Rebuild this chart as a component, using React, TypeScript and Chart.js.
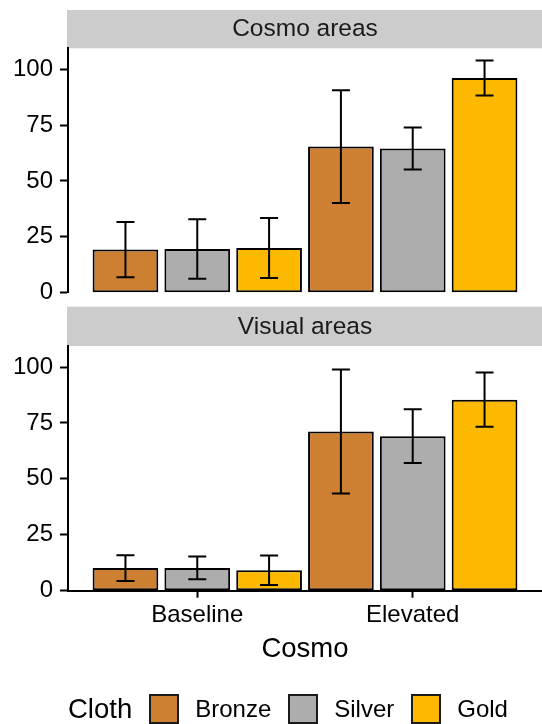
import React, { useEffect, useRef } from 'react';
import { Chart, registerables } from 'chart.js';

Chart.register(...registerables);

const FONT = "'Liberation Sans', Arial, Helvetica, sans-serif";

// ---- data ----
const categories = ['Baseline', 'Elevated'];
const cloths = ['Bronze', 'Silver', 'Gold'];
const clothColors = ['#CD7F32', '#ADADAD', '#FCB900'];
const panelTitles = ['Cosmo areas', 'Visual areas'];
const xTitle = 'Cosmo';
const legendTitle = 'Cloth';
const yTicks = [0, 25, 50, 75, 100];
const yMax = 109.4;

// Cosmo areas (top panel)
const cosmoBronze = [19.3, 65.4];
const cosmoSilver = [19.6, 64.5];
const cosmoGold = [20.0, 96.1];
const cosmoBronzeErr = [12.4, 25.2];
const cosmoSilverErr = [13.3, 9.4];
const cosmoGoldErr = [13.4, 7.8];

// Visual areas (bottom panel)
const visualBronze = [10.1, 71.2];
const visualSilver = [10.2, 69.1];
const visualGold = [9.1, 85.4];
const visualBronzeErr = [5.8, 27.7];
const visualSilverErr = [5.1, 12.0];
const visualGoldErr = [6.6, 12.1];

// ---- plugins ----
const stripPlugin = {
  id: 'strip',
  beforeDraw(chart: any, _args: any, opts: any) {
    const { ctx, chartArea } = chart;
    ctx.save();
    ctx.fillStyle = '#cccccc';
    ctx.fillRect(chartArea.left - 1, opts.top, chartArea.right - chartArea.left + 1, chartArea.top - opts.top);
    ctx.fillStyle = '#1a1a1a';
    ctx.font = `24.5px ${FONT}`;
    ctx.textAlign = 'center';
    ctx.textBaseline = 'middle';
    ctx.fillText(opts.text, (chartArea.left + chartArea.right) / 2, (opts.top + chartArea.top) / 2 + 0.5);
    ctx.restore();
  },
};

const errorBarPlugin = {
  id: 'errorBars',
  afterDatasetsDraw(chart: any) {
    const { ctx } = chart;
    const yScale = chart.scales.y;
    ctx.save();
    ctx.strokeStyle = '#000';
    ctx.lineWidth = 2;
    chart.data.datasets.forEach((ds: any, di: number) => {
      const meta = chart.getDatasetMeta(di);
      meta.data.forEach((bar: any, i: number) => {
        const v = ds.data[i].y;
        const e = ds.errors[i];
        const yt = yScale.getPixelForValue(v + e);
        const yb = yScale.getPixelForValue(v - e);
        const x = bar.x;
        const hw = 9;
        ctx.beginPath();
        ctx.moveTo(x, yt);
        ctx.lineTo(x, yb);
        ctx.moveTo(x - hw, yt);
        ctx.lineTo(x + hw, yt);
        ctx.moveTo(x - hw, yb);
        ctx.lineTo(x + hw, yb);
        ctx.stroke();
      });
    });
    ctx.restore();
  },
};

const buildDatasets = (means: number[][], errs: number[][]) =>
  cloths.map((name, k) => ({
    label: name,
    data: categories.map((_, i) => ({ x: i + 1, y: means[k][i] })),
    errors: errs[k],
    backgroundColor: clothColors[k],
    borderColor: '#000',
    borderWidth: 2,
    borderSkipped: false,
    categoryPercentage: 1,
    barPercentage: 0.915,
  }));

const yScaleOpts = () => ({
  type: 'linear',
  min: 0,
  max: yMax,
  afterBuildTicks: (s: any) => {
    s.ticks = yTicks.map((v) => ({ value: v }));
  },
  afterFit: (s: any) => {
    s.width = 68;
    s.paddingTop = 0;
    s.paddingBottom = 0;
  },
  grid: { display: true, drawOnChartArea: false, drawTicks: true, tickLength: 8, tickWidth: 2, tickColor: '#000' },
  border: { display: true, color: '#000', width: 2 },
  ticks: { padding: 7, color: '#000', font: { family: FONT, size: 24 } },
});

const xScaleOpts = (show: boolean) => ({
  type: 'linear',
  min: 0.4,
  max: 2.6,
  offset: false,
  afterBuildTicks: (s: any) => {
    s.ticks = categories.map((_, i) => ({ value: i + 1 }));
  },
  afterFit: (s: any) => {
    s.height = show ? 133.3 : 0;
    s.paddingLeft = 0;
    s.paddingRight = 0;
  },
  grid: {
    display: show,
    drawOnChartArea: false,
    offset: false,
    tickLength: 7,
    tickWidth: 2,
    tickColor: '#000',
  },
  border: { display: show, color: '#000', width: 2 },
  ticks: {
    display: show,
    padding: 3,
    color: '#000',
    autoSkip: false,
    maxRotation: 0,
    font: { family: FONT, size: 24 },
    callback: (v: any) => categories[Math.round(Number(v)) - 1] ?? '',
  },
  title: {
    display: show,
    text: xTitle,
    color: '#000',
    font: { family: FONT, size: 27.5 },
    padding: { top: 0, bottom: 58.5 },
  },
});

const makeConfig = (means: number[][], errs: number[][], title: string, stripTop: number, padTop: number, padBottom: number, showX: boolean): any => ({
  type: 'bar',
  data: { datasets: buildDatasets(means, errs) },
  options: {
    animation: false,
    responsive: false,
    devicePixelRatio: 1,
    layout: { padding: { top: padTop, bottom: padBottom, left: 0, right: 0 } },
    scales: { x: xScaleOpts(showX), y: yScaleOpts() },
    plugins: {
      legend: { display: false },
      tooltip: { enabled: false },
      strip: { text: title, top: stripTop },
    },
  },
  plugins: [stripPlugin, errorBarPlugin],
});

export default function App() {
  const topRef = useRef<HTMLCanvasElement | null>(null);
  const botRef = useRef<HTMLCanvasElement | null>(null);

  useEffect(() => {
    Chart.defaults.font.family = FONT;
    const c1 = new Chart(
      topRef.current as HTMLCanvasElement,
      makeConfig(
        [cosmoBronze, cosmoSilver, cosmoGold],
        [cosmoBronzeErr, cosmoSilverErr, cosmoGoldErr],
        panelTitles[0], 10, 48.3, 7.3, false
      )
    );
    const c2 = new Chart(
      botRef.current as HTMLCanvasElement,
      makeConfig(
        [visualBronze, visualSilver, visualGold],
        [visualBronzeErr, visualSilverErr, visualGoldErr],
        panelTitles[1], 6.7, 46, 0, true
      )
    );
    return () => {
      c1.destroy();
      c2.destroy();
    };
  }, []);

  return (
    <div style={{ position: 'absolute', left: 0, top: 0, width: 542, height: 724, background: '#fff', overflow: 'hidden' }}>
      <canvas ref={topRef} width={542} height={300} style={{ position: 'absolute', left: 0, top: 0, display: 'block' }} />
      <canvas ref={botRef} width={542} height={424} style={{ position: 'absolute', left: 0, top: 300, display: 'block' }} />
      <div
        style={{
          position: 'absolute',
          left: 68,
          top: 694,
          height: 30,
          display: 'flex',
          alignItems: 'center',
          fontFamily: FONT,
          color: '#000',
          lineHeight: '30px',
          whiteSpace: 'nowrap',
        }}
      >
        <span style={{ fontSize: 27.5, marginRight: 17 }}>{legendTitle}</span>
        {cloths.map((name, k) => (
          <React.Fragment key={name}>
            <span
              style={{
                display: 'inline-block',
                width: 30,
                height: 30,
                boxSizing: 'border-box',
                border: '2px solid #1a1a1a',
                background: clothColors[k],
                marginRight: 16,
              }}
            />
            <span style={{ fontSize: 24, marginRight: 17 }}>{name}</span>
          </React.Fragment>
        ))}
      </div>
    </div>
  );
}
